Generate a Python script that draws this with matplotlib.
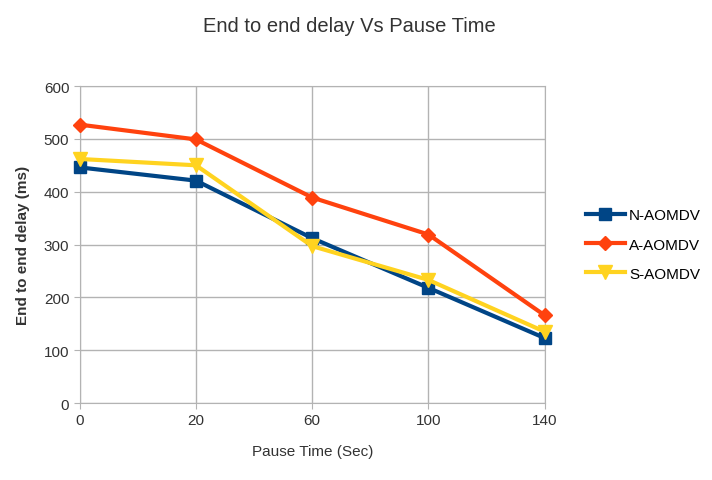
import matplotlib.pyplot as plt

plt.rcParams['font.family'] = ['Liberation Sans', 'DejaVu Sans']

pause_labels = ['0', '20', '60', '100', '140']
n_aomdv = [446, 421, 312, 218, 123]
a_aomdv = [527, 499, 389, 319, 166]
s_aomdv = [462, 450, 297, 233, 135]

fig = plt.figure(figsize=(7.12, 4.81), dpi=100)
ax = fig.add_axes([0.112, 0.160, 0.653, 0.659])

x = range(len(pause_labels))
ax.plot(x, n_aomdv, color='#004586', lw=3, marker='s', ms=9, label='N-AOMDV', zorder=3, clip_on=False)
ax.plot(x, a_aomdv, color='#ff420e', lw=3, marker='D', ms=7, label='A-AOMDV', zorder=4, clip_on=False)
ax.plot(x, s_aomdv, color='#ffd320', lw=3, marker='v', ms=10, label='S-AOMDV', zorder=5, clip_on=False)

ax.set_xlim(0, len(pause_labels) - 1)
ax.set_ylim(0, 600)
ax.set_xticks(list(x))
ax.set_xticklabels(pause_labels)
ax.set_yticks(range(0, 601, 100))
ax.grid(axis='both', color='#b3b3b3', lw=1)
ax.set_axisbelow(True)
for s in ax.spines.values():
    s.set_color('#b3b3b3')
ax.tick_params(colors='#b3b3b3', labelcolor='#333333', labelsize=11, length=4)

ax.set_xlabel('Pause Time (Sec)', fontsize=11, color='#333333', labelpad=12)
ax.set_ylabel('End to end delay (ms)', fontsize=11, color='#333333', labelpad=10, fontweight='bold')
fig.suptitle('End to end delay Vs Pause Time', x=0.49, y=0.965, fontsize=14.5, color='#333333')

ax.legend(loc='center left', bbox_to_anchor=(1.06, 0.5), frameon=False, fontsize=11,
          handlelength=2.5, labelspacing=1.0, handletextpad=0.3)

fig.savefig('out.png', dpi=100)
